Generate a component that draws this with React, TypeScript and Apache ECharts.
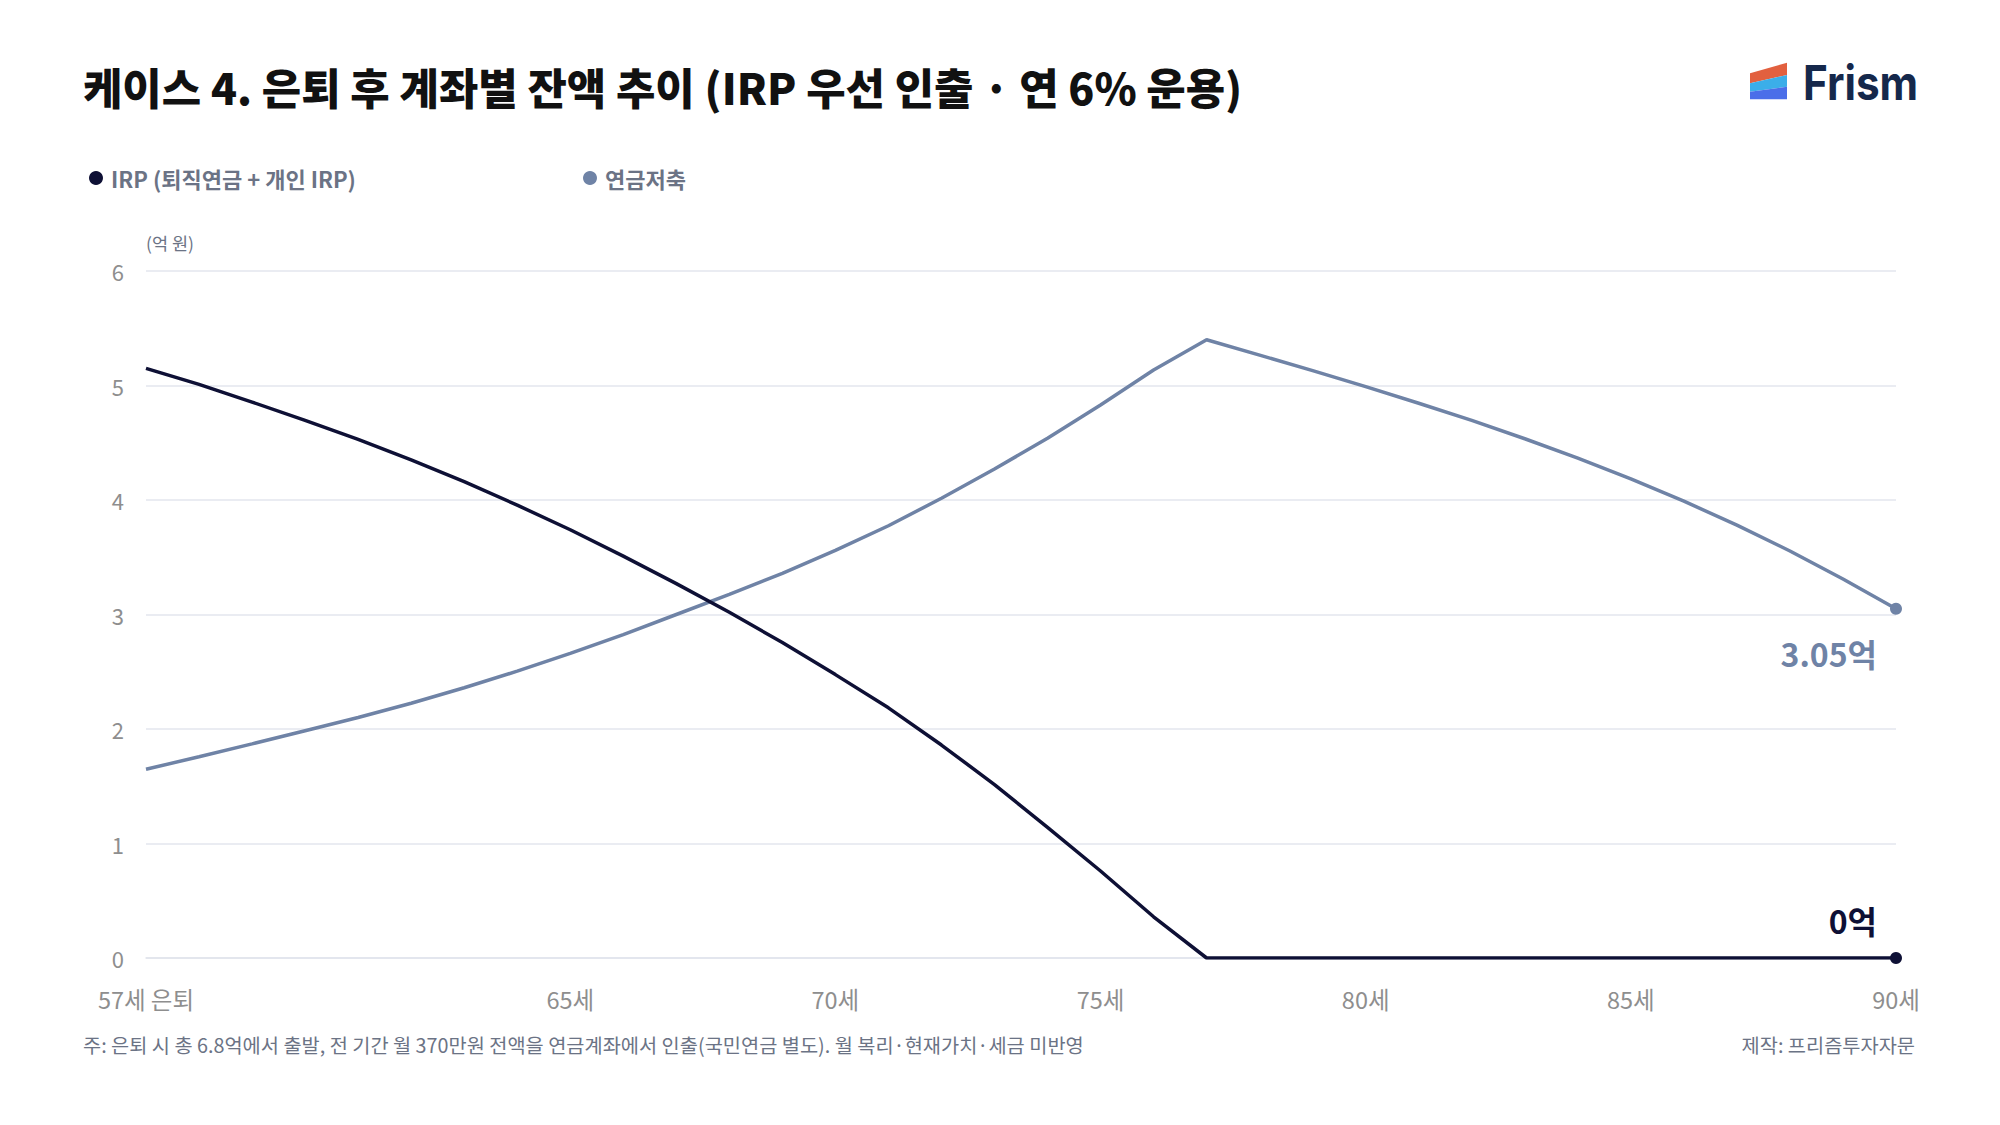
import React, { useEffect, useRef } from "react";
import * as echarts from "echarts";

const ages = [57, 58, 59, 60, 61, 62, 63, 64, 65, 66, 67, 68, 69, 70, 71, 72, 73, 74, 75, 76, 77, 78, 79, 80, 81, 82, 83, 84, 85, 86, 87, 88, 89, 90];
const tickAges = [57, 65, 70, 75, 80, 85, 90];

// 억 원
const irpBalance = [
  5.15, 5.01, 4.855, 4.695, 4.53, 4.35, 4.16, 3.955, 3.74, 3.51,
  3.27, 3.02, 2.755, 2.475, 2.185, 1.86, 1.515, 1.14, 0.76, 0.36,
  0, 0, 0, 0, 0, 0, 0, 0, 0, 0, 0, 0, 0, 0,
];
const pensionSavings = [
  1.648, 1.758, 1.87, 1.985, 2.1, 2.225, 2.36, 2.505, 2.66, 2.825,
  3.0, 3.175, 3.36, 3.56, 3.775, 4.015, 4.27, 4.54, 4.83, 5.135,
  5.4, 5.265, 5.13, 4.99, 4.845, 4.695, 4.535, 4.365, 4.185, 3.99,
  3.78, 3.555, 3.31, 3.05,
];

const seriesNames = ["IRP (퇴직연금 + 개인 IRP)", "연금저축"];
const endLabels = ["0억", "3.05억"];
const titleText = "케이스 4. 은퇴 후 계좌별 잔액 추이 (IRP 우선 인출 · 연 6% 운용)";
const noteText = "주: 은퇴 시 총 6.8억에서 출발, 전 기간 월 370만원 전액을 연금계좌에서 인출(국민연금 별도). 월 복리·현재가치·세금 미반영";
const creditText = "제작: 프리즘투자자문";
const unitText = "(억 원)";

const IRP_COLOR = "#0e1035";
const PENSION_COLOR = "#6f83a6";
const FONT = "'Noto Sans CJK KR', 'Noto Sans', sans-serif";

function buildData(values: number[], label: string, color: string, pos: number[]) {
  return values.map((v, i) => {
    if (i < values.length - 1) return v;
    return {
      value: v,
      symbol: "circle",
      symbolSize: 12,
      label: {
        show: true,
        formatter: label,
        position: pos,
        align: "right",
        verticalAlign: "middle",
        color,
        fontSize: 32,
        fontWeight: "bold",
        fontFamily: FONT,
      },
    };
  });
}

export default function App() {
  const ref = useRef<HTMLDivElement>(null);

  useEffect(() => {
    if (!ref.current) return;
    const chart = echarts.init(ref.current, null, { renderer: "svg" });
    const legendText = {
      color: "#6b7385",
      fontSize: 22,
      fontWeight: "bold",
      fontFamily: FONT,
      padding: [0, 0, 0, 3],
    };
    chart.setOption({
      animation: false,
      backgroundColor: "#ffffff",
      textStyle: { fontFamily: FONT },
      grid: { left: 146, right: 104, top: 271, bottom: 167 },
      legend: [
        {
          data: [seriesNames[0]],
          left: 89,
          top: 167,
          padding: 0,
          icon: "circle",
          itemWidth: 14,
          itemHeight: 14,
          selectedMode: false,
          textStyle: legendText,
        },
        {
          data: [seriesNames[1]],
          left: 583,
          top: 167,
          padding: 0,
          icon: "circle",
          itemWidth: 14,
          itemHeight: 14,
          selectedMode: false,
          textStyle: legendText,
        },
      ],
      xAxis: {
        type: "category",
        data: ages.map(String),
        boundaryGap: false,
        axisLine: { show: true, lineStyle: { color: "#e1e4ec", width: 1.5 } },
        axisTick: { show: false },
        splitLine: { show: false },
        axisLabel: {
          interval: (_i: number, v: string) => tickAges.includes(Number(v)),
          formatter: (v: string) => (Number(v) === 57 ? "57세 은퇴" : `${v}세`),
          color: "#8e8e8e",
          fontSize: 23.5,
          margin: 29,
          fontFamily: FONT,
        },
      },
      yAxis: {
        type: "value",
        min: 0,
        max: 6,
        interval: 1,
        name: unitText,
        nameLocation: "end",
        nameGap: 29,
        nameTextStyle: {
          color: "#6b7385",
          fontSize: 17.5,
          align: "left",
          verticalAlign: "middle",
          fontFamily: FONT,
        },
        axisLine: { show: false },
        axisTick: { show: false },
        axisLabel: { color: "#8e8e8e", fontSize: 22, margin: 22, fontFamily: FONT },
        splitLine: { lineStyle: { color: "#e3e6ee", width: 1.5 } },
      },
      series: [
        {
          name: seriesNames[0],
          type: "line",
          color: IRP_COLOR,
          symbol: "none",
          showSymbol: true,
          lineStyle: { width: 3.5, color: IRP_COLOR },
          itemStyle: { color: IRP_COLOR },
          emphasis: { disabled: true },
          z: 3,
          data: buildData(irpBalance, endLabels[0], IRP_COLOR, [-13, -32]),
        },
        {
          name: seriesNames[1],
          type: "line",
          color: PENSION_COLOR,
          symbol: "none",
          showSymbol: true,
          lineStyle: { width: 3.5, color: PENSION_COLOR },
          itemStyle: { color: PENSION_COLOR },
          emphasis: { disabled: true },
          z: 2,
          data: buildData(pensionSavings, endLabels[1], PENSION_COLOR, [-13, 50]),
        },
      ],
      graphic: [
        {
          type: "text",
          x: 83,
          y: 86,
          style: {
            text: titleText,
            fill: "#111111",
            fontSize: 42.8,
            fontWeight: 900,
            fontFamily: FONT,
            verticalAlign: "middle",
            align: "left",
          },
        },
        {
          type: "polygon",
          shape: { points: [[1750, 73.3], [1787, 62.7], [1787, 75], [1750, 83.3]] },
          style: { fill: "#e2603f" },
        },
        {
          type: "polygon",
          shape: { points: [[1750, 83.3], [1787, 75], [1787, 86.7], [1750, 91.7]] },
          style: { fill: "#3baee9" },
        },
        {
          type: "polygon",
          shape: { points: [[1750, 91.7], [1787, 86.7], [1787, 99.3], [1750, 99.3]] },
          style: { fill: "#4b6ee9" },
        },
        {
          type: "text",
          x: 1803,
          y: 82,
          scaleX: 0.88,
          style: {
            text: "Frism",
            fill: "#15284b",
            fontSize: 48,
            fontWeight: "bold",
            fontFamily: "Inter, 'Noto Sans', sans-serif",
            verticalAlign: "middle",
            align: "left",
          },
        },
        {
          type: "text",
          x: 83,
          y: 1044,
          style: {
            text: noteText,
            fill: "#6b7385",
            fontSize: 19.75,
            fontFamily: FONT,
            verticalAlign: "middle",
            align: "left",
          },
        },
        {
          type: "text",
          x: 1915,
          y: 1044,
          style: {
            text: creditText,
            fill: "#6b7385",
            fontSize: 19.75,
            fontFamily: FONT,
            verticalAlign: "middle",
            align: "right",
          },
        },
      ],
    });
    return () => chart.dispose();
  }, []);

  return (
    <div style={{ position: "fixed", left: 0, top: 0, width: 2000, height: 1125, background: "#fff" }}>
      <div ref={ref} style={{ width: 2000, height: 1125 }} />
    </div>
  );
}
